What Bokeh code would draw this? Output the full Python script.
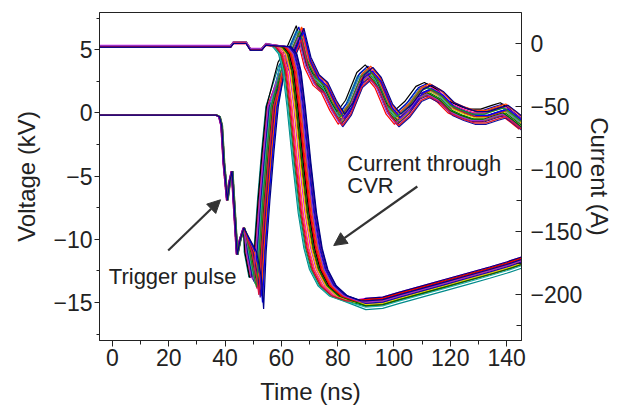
from bokeh.plotting import figure
from bokeh.models import (Range1d, LinearAxis, FixedTicker, Label, Arrow, NormalHead)
from bokeh.embed import file_html
from bokeh.resources import INLINE

# ---------------- data ----------------
# Trigger pulse (voltage, kV) : common leading part
TRIG_T_PRE = [-5.0, 36.8, 38.0, 38.8, 39.6, 40.8, 41.6, 42.5, 44.3, 45.4, 46.7]
TRIG_V_PRE = [-0.17, -0.17, -0.3, -1.0, -4.0, -6.9, -5.5, -4.6, -11.2, -10.0, -9.1]
# main dip and rise (time is jittered per shot)
TRIG_T_DIP = [47.8, 49.5, 50.3, 51.2, 52.5, 54.0, 55.5]
TRIG_V_DIP = [-11.0, -13.0, None, -11.0, -7.0, -3.0, 0.5]
# after the rise: overshoot and ringing
TRIG_T_POST = [60, 63, 66.5, 69, 72, 75, 78, 81, 84, 88, 91, 94, 98, 101, 105,
               109, 112, 116, 120, 124, 128, 132, 136, 139, 142, 145.3]
TRIG_V_POST = [3.4, 4.5, 6.3, 4.0, 2.6, 2.0, 0.6, -0.5, 0.4, 2.6, 3.2, 2.4, 0.3, -0.5, 0.3,
               1.5, 1.8, 1.3, 0.4, 0.0, -0.3, -0.3, 0.0, 0.2, -0.3, -0.9]

# Current through CVR (A)
CUR_T_PRE = [-5.0, 42.0, 43.0, 47.5, 49.0, 53.0, 54.5]
CUR_I_PRE = [-2.1, -2.1, 0.8, 0.8, -4.5, -4.5, -0.5]
CUR_T_FALL = [60.0, 62.0, 63.5, 65.0, 67.0, 69.0, 71.0, 73.0, 76.0, 80.0, 85.0]
CUR_I_FALL = [-2.5, -8.0, -22.0, -50.0, -95.0, -135.0, -163.0, -180.0, -193.0, -201.0, -205.0]
CUR_T_TAIL = [90, 96, 102, 110, 118, 126, 134, 140, 145.3]
CUR_I_TAIL = [-206, -205, -201, -196, -191, -186, -181, -177, -173]

# per-shot variations (estimated from the spread of the bundle)
V_PRE_SHIFT = [0.0, 0.2, -0.2, 0.1, -0.1, 0.3, -0.3, 0.0, 0.2, -0.1, 0.1, -0.2,
               0.0, 0.3, -0.3, 0.1, -0.1, 0.2, 0.0, -0.2, 0.1, 0.2, -0.1, 0.0]
V_DIP_SHIFT = [-1.0, -0.5, 0.0, 0.4, 0.8, 1.2, 1.6, 2.0, 2.4, 2.8, 3.2, -0.8,
               0.2, 0.6, 1.0, 1.4, 1.8, 2.2, 2.6, 3.0, -0.3, 0.9, 1.7, 3.4]
V_DIP_DEPTH = [-12.8, -13.0, -13.3, -13.5, -13.2, -13.7, -14.0, -13.6, -14.2, -14.5, -14.8, -12.9,
               -13.4, -13.6, -13.9, -13.5, -14.1, -14.6, -14.0, -15.0, -13.1, -13.8, -14.4, -15.5]
V_POST_SHIFT = [-1.0, -0.8, -0.5, 0.6, -0.3, 0.9, 0.2, 1.1, 0.4, 1.3, 1.0, -1.2,
                0.8, -0.6, 0.5, -0.2, 1.2, 0.3, 0.7, 1.4, -0.4, 0.1, 0.6, 1.5]
V_POST_OFFSET = [0.3, -0.4, 0.2, -0.2, 0.5, -0.5, 0.0, 0.4, -0.3, 0.1, -0.1, 0.6,
                 -0.6, 0.2, 0.3, -0.2, 0.0, -0.4, 0.5, 0.1, -0.3, 0.2, -0.5, 0.4]
C_PRE_OFFSET = [0.5, -0.5, 0.3, -0.3, 0.8, -0.8, 0.0, 0.4, -0.4, 0.6, -0.6, 0.2,
                -0.2, 0.7, -0.7, 0.1, -0.1, 0.5, -0.5, 0.3, -0.3, 0.0, 0.6, -0.6]
C_FALL_SHIFT = [-3.0, -2.4, -1.8, -1.2, -0.6, 0.0, 0.5, 1.0, 1.5, 2.0, 2.5, 3.0,
                3.5, -2.7, -1.5, -0.3, 0.8, 1.8, 2.8, -2.1, 0.3, 1.2, 2.2, 3.3]
C_TAIL_OFFSET = [-6, -3, 2, -1, 3, 0, -2, 1, -3, 2, 0, -1,
                 3, -4, 1, -2, 2, 0, -1, 1, -3, 2, 0, 1]

V_COLORS = ["#008B8B", "#FF0000", "#C000C0", "#008000", "#0000CC", "#FF8C00",
            "#800080", "#DD0000", "#808000", "#000080", "#E0D000", "#000000",
            "#1010A0", "#20B2AA", "#FF1493", "#006400", "#B22222", "#4B0082",
            "#FF4500", "#0000FF", "#9932CC", "#228B22", "#DC143C", "#00008B"]
C_COLORS = ["#008B8B", "#008000", "#FF0000", "#FF8C00", "#E000E0", "#DD0000",
            "#808000", "#800080", "#DC143C", "#228B22", "#0000FF", "#C000C0",
            "#000080", "#20B2AA", "#FF1493", "#E0D000", "#000000", "#FF4500",
            "#1010A0", "#B22222", "#006400", "#FF0000", "#9932CC", "#00008B"]

X_TICKS = [0, 20, 40, 60, 80, 100, 120, 140]
X_MINOR = [10, 30, 50, 70, 90, 110, 130]
V_TICKS = [-15, -10, -5, 0, 5]
V_MINOR = [-17.5, -12.5, -7.5, -2.5, 2.5, 7.5]
I_TICKS = [-200, -150, -100, -50, 0]
I_MINOR = [-225, -175, -125, -75, -25]

FONT = "Liberation Sans"
TXT = "#222222"

p = figure(width=618, height=407, x_range=Range1d(-4.6, 145.3), y_range=Range1d(-18.0, 7.94),
           output_backend="svg", toolbar_location=None)
p.extra_y_ranges = {"cur": Range1d(-236.6, 24.9)}
p.min_border_left = 99
p.min_border_right = 97
p.min_border_top = 12
p.min_border_bottom = 66
p.xgrid.visible = False
p.ygrid.visible = False
p.outline_line_color = TXT
p.outline_line_width = 1
p.background_fill_color = "white"
p.border_fill_color = "white"

def mlabels(ticks):
    return {t: (("\u2212" + str(abs(t))) if t < 0 else str(t)) for t in ticks}

def style(ax):
    ax.axis_line_color = TXT
    ax.major_tick_line_color = TXT
    ax.minor_tick_line_color = TXT
    ax.major_label_text_font = FONT
    ax.major_label_text_font_size = "23px"
    ax.major_label_text_color = TXT
    ax.axis_label_text_font = FONT
    ax.axis_label_text_font_size = "24px"
    ax.axis_label_text_font_style = "normal"
    ax.axis_label_text_color = TXT

xa = p.xaxis[0]
xa.ticker = FixedTicker(ticks=X_TICKS, minor_ticks=X_MINOR)
xa.major_label_overrides = mlabels(X_TICKS)
xa.axis_label = "Time (ns)"
style(xa)
xa.major_tick_out = 6
xa.major_tick_in = 0
xa.minor_tick_out = 4
xa.minor_tick_in = 0
xa.major_label_standoff = 2
xa.axis_label_standoff = 9

ya = p.yaxis[0]
ya.ticker = FixedTicker(ticks=V_TICKS, minor_ticks=V_MINOR)
ya.major_label_overrides = mlabels(V_TICKS)
ya.axis_label = "Voltage (kV)"
style(ya)
ya.major_tick_out = 5
ya.major_tick_in = 0
ya.minor_tick_out = 3
ya.minor_tick_in = 0
ya.major_label_standoff = 2
ya.axis_label_standoff = 10

ra = LinearAxis(y_range_name="cur", ticker=FixedTicker(ticks=I_TICKS, minor_ticks=I_MINOR))
ra.major_label_overrides = mlabels(I_TICKS)
ra.axis_label = "Current (A)"
style(ra)
ra.major_tick_out = 0
ra.major_tick_in = 6
ra.minor_tick_out = 0
ra.minor_tick_in = 5
ra.major_label_standoff = 9
ra.axis_label_standoff = 1
p.add_layout(ra, "right")

# trigger pulse traces
for i, c in enumerate(V_COLORS):
    xs = [t + V_PRE_SHIFT[i] for t in TRIG_T_PRE]
    ys = list(TRIG_V_PRE)
    for t, v in zip(TRIG_T_DIP, TRIG_V_DIP):
        xs.append(t + V_DIP_SHIFT[i])
        ys.append(V_DIP_DEPTH[i] if v is None else v)
    for t, v in zip(TRIG_T_POST, TRIG_V_POST):
        xs.append(t + V_POST_SHIFT[i])
        ys.append(v + V_POST_OFFSET[i])
    p.line(xs, ys, line_color=c, line_width=1.2)

# current traces
for i, c in enumerate(C_COLORS):
    xs = list(CUR_T_PRE)
    ys = [v + C_PRE_OFFSET[i] for v in CUR_I_PRE]
    xs += [t + C_FALL_SHIFT[i] for t in CUR_T_FALL]
    ys += list(CUR_I_FALL)
    xs += list(CUR_T_TAIL)
    ys += [v + C_TAIL_OFFSET[i] for v in CUR_I_TAIL]
    p.line(xs, ys, line_color=c, line_width=1.2, y_range_name="cur")

# annotations
p.add_layout(Label(x=-1.3, y=-12.9, text="Trigger pulse", text_font=FONT, text_font_size="22px",
                   text_color=TXT, text_baseline="alphabetic"))
p.add_layout(Label(x=83.4, y=-3.98, text="Current through", text_font=FONT, text_font_size="22px",
                   text_color=TXT, text_baseline="alphabetic"))
p.add_layout(Label(x=83.4, y=-5.74, text="CVR", text_font=FONT, text_font_size="22px",
                   text_color=TXT, text_baseline="alphabetic"))
p.add_layout(Arrow(end=NormalHead(size=13, fill_color="#333333", line_color="#333333"),
                   x_start=19.8, y_start=-10.88, x_end=38.4, y_end=-6.87,
                   line_color="#333333", line_width=2.2))
p.add_layout(Arrow(end=NormalHead(size=13, fill_color="#333333", line_color="#333333"),
                   x_start=108.3, y_start=-5.82, x_end=78.6, y_end=-10.49,
                   line_color="#333333", line_width=2.2))

open("out.html", "w").write(file_html(p, INLINE))
